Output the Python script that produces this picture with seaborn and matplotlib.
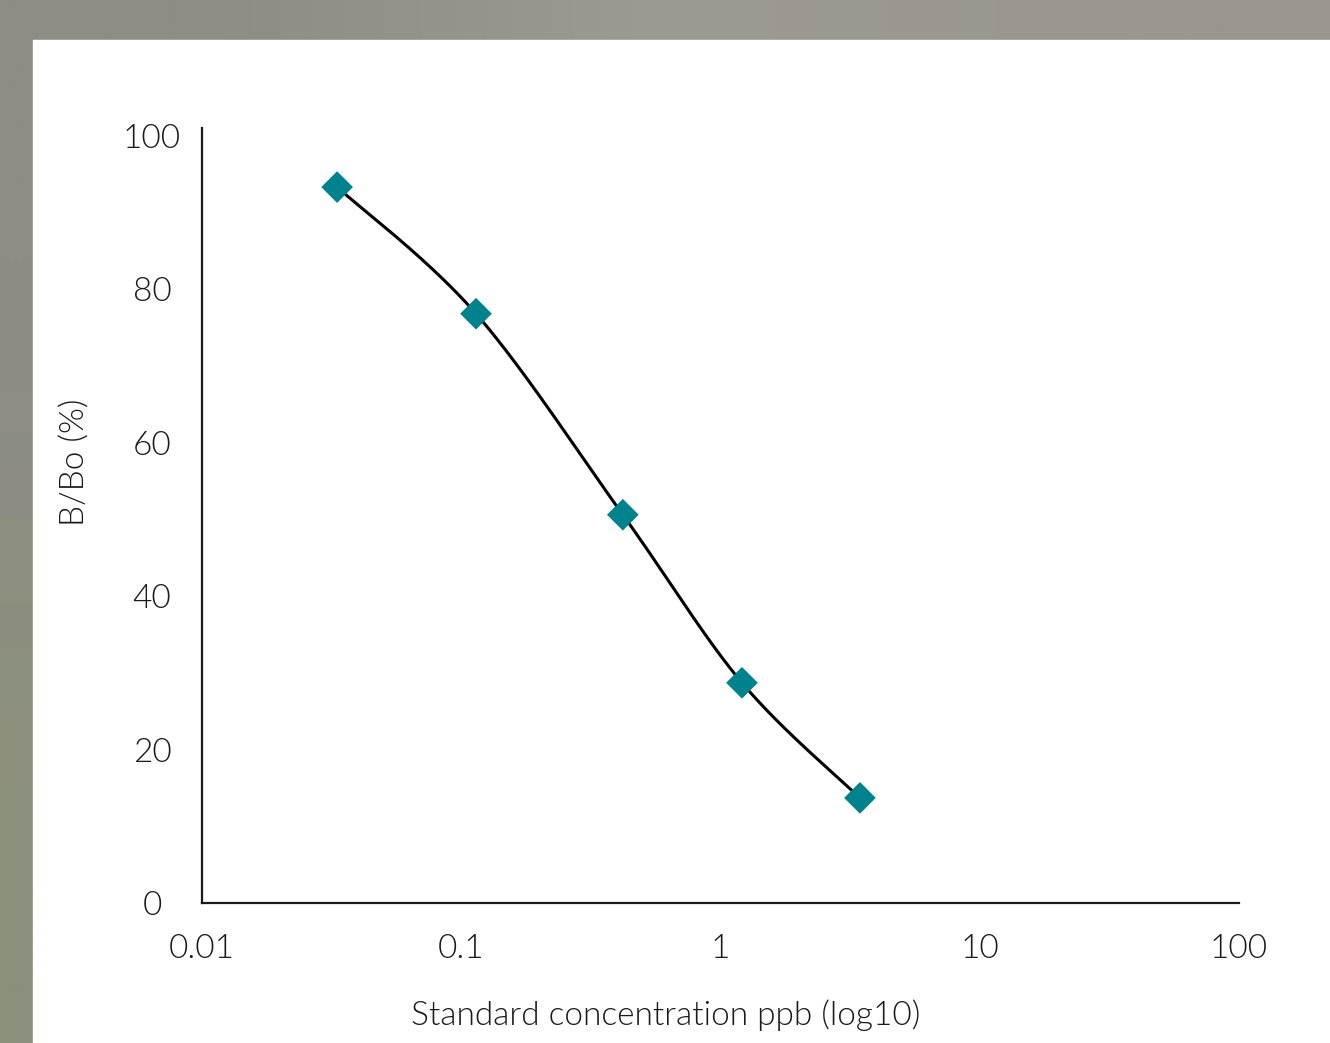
import numpy as np
import pandas as pd
import matplotlib
matplotlib.use("Agg")
import matplotlib.pyplot as plt
import matplotlib.colors as mcolors
import seaborn as sns

# ---- data ----
concentration = [0.0332, 0.114, 0.420, 1.21, 3.45]
b_bo = [93.3, 76.8, 50.6, 28.7, 13.7]
x_ticks = [0.01, 0.1, 1, 10, 100]
x_tick_labels = ["0.01", "0.1", "1", "10", "100"]
y_ticks = [0, 20, 40, 60, 80, 100]
y_tick_labels = ["0", "20", "40", "60", "80", "100"]
x_title = "Standard concentration ppb (log10)"
y_title = "B/Bo (%)"

sns.set_theme(style="white")
plt.rcParams["font.family"] = ["Lato", "DejaVu Sans"]
FW = 300

W, H = 1330, 1043
fig = plt.figure(figsize=(W / 100, H / 100), dpi=100)

# background gradient frame
bg = fig.add_axes([0, 0, 1, 1], zorder=-10)
corners = np.array([
    [mcolors.to_rgb("#8e8c84"), mcolors.to_rgb("#9d9a8f"), mcolors.to_rgb("#9a968e")],
    [mcolors.to_rgb("#8b907c"), mcolors.to_rgb("#8f8f84"), mcolors.to_rgb("#94928a")],
])
bg.imshow(corners, aspect="auto", interpolation="bilinear", extent=[0, 1, 0, 1])
bg.add_patch(plt.Rectangle((33 / W, 0), 1 - 33 / W, 1 - 40 / H, color="white",
                           transform=bg.transAxes, zorder=5))
bg.set_axis_off()

left, right = 202 / W, 1239 / W
bottom, top = 1 - 903 / H, 1 - 128 / H
ax = fig.add_axes([left, bottom, right - left, top - bottom])
ax.set_facecolor("none")

# smooth curve (Catmull-Rom style Bezier, Excel-like smoothing) in log-x space
lx = np.log10(concentration)
yy = np.array(b_bo)
P = np.column_stack([lx, yy])
Pext = np.vstack([P[0], P, P[-1]])
curve = []
t = np.linspace(0, 1, 60)
for i in range(len(P) - 1):
    p0, p1, p2, p3 = Pext[i], Pext[i + 1], Pext[i + 2], Pext[i + 3]
    c1 = p1 + (p2 - p0) / 6
    c2 = p2 - (p3 - p1) / 6
    seg = ((1 - t) ** 3)[:, None] * p1 + (3 * (1 - t) ** 2 * t)[:, None] * c1 \
        + (3 * (1 - t) * t ** 2)[:, None] * c2 + (t ** 3)[:, None] * p2
    curve.append(seg if i == 0 else seg[1:])
curve = np.vstack(curve)
curve_df = pd.DataFrame({"x": 10 ** curve[:, 0], "y": curve[:, 1]})

ax.set_xscale("log")
sns.lineplot(data=curve_df, x="x", y="y", sort=False, estimator=None, color="black",
             linewidth=2.2, ax=ax, zorder=2)
pts = pd.DataFrame({"x": concentration, "y": b_bo})
sns.scatterplot(data=pts, x="x", y="y", marker="D", s=260, color="#00828c",
                edgecolor="none", ax=ax, zorder=3)

ax.set_xlim(0.01, 100)
ax.set_ylim(0, 101)
ax.set_xticks(x_ticks)
ax.set_xticklabels(x_tick_labels)
ax.minorticks_off()
ax.set_yticks(y_ticks)
ax.set_yticklabels(y_tick_labels)
ax.tick_params(axis="both", length=0, labelsize=24, colors="#1a1a1a")
ax.tick_params(axis="x", pad=22)
ax.tick_params(axis="y", pad=36)
for lab in ax.get_yticklabels() + ax.get_xticklabels():
    lab.set_fontweight(FW)
for lab in ax.get_yticklabels():
    lab.set_ha("center")

for side in ["top", "right"]:
    ax.spines[side].set_visible(False)
for side in ["left", "bottom"]:
    ax.spines[side].set_color("#1a1a1a")
    ax.spines[side].set_linewidth(1.6)

ax.set_xlabel(x_title, fontsize=24, color="#1a1a1a", fontweight=FW)
ax.set_ylabel(y_title, fontsize=24, color="#1a1a1a", fontweight=FW)
ax.xaxis.set_label_coords((666 - 202) / 1037, (903 - 1015) / 775)
ax.xaxis.label.set_va("center")
ax.yaxis.set_label_coords((75 - 202) / 1037, (903 - 462) / 775)
ax.yaxis.label.set_va("center")
ax.yaxis.label.set_ha("center")
ax.grid(False)

fig.savefig("out.png", dpi=100)
